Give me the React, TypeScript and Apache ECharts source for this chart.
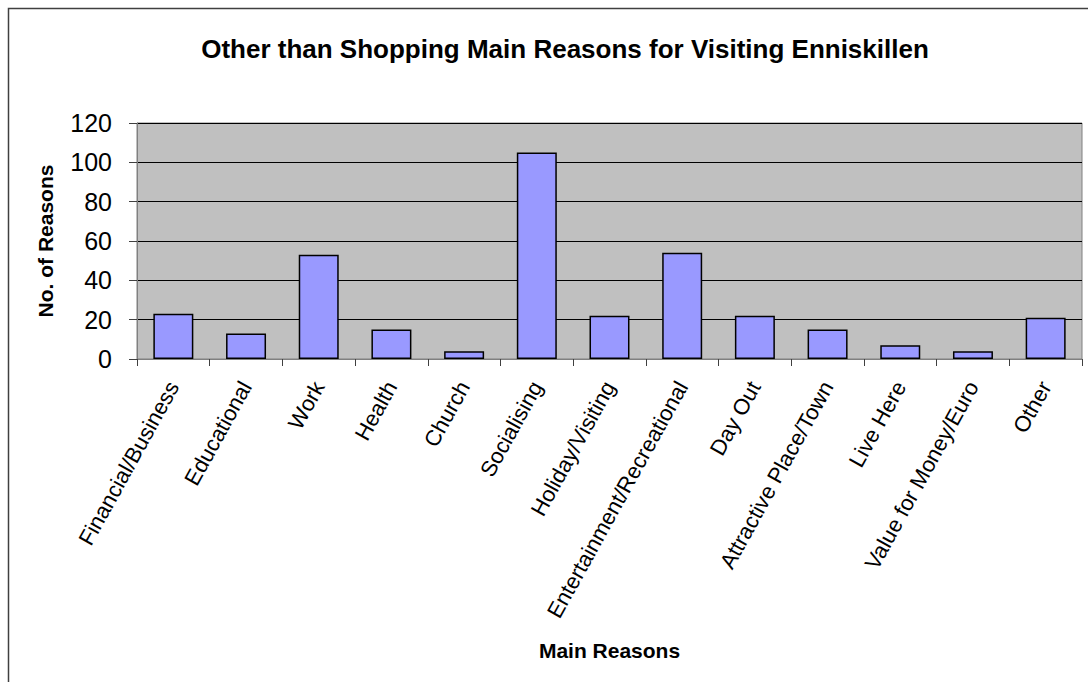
import React, { useEffect, useRef } from "react";
import * as echarts from "echarts";

const categories = [
  "Financial/Business",
  "Educational",
  "Work",
  "Health",
  "Church",
  "Socialising",
  "Holiday/Visiting",
  "Entertainment/Recreational",
  "Day Out",
  "Attractive Place/Town",
  "Live Here",
  "Value for Money/Euro",
  "Other",
];
const reasonCounts = [23, 13, 53, 15, 4, 105, 22, 54, 22, 15, 7, 4, 21];
const titleText = "Other than Shopping Main Reasons for Visiting Enniskillen";
const xAxisName = "Main Reasons";
const yAxisName = "No. of Reasons";
const yMin = 0;
const yMax = 120;
const yStep = 20;

const FONT = "'Liberation Sans', Arial, sans-serif";

export default function App() {
  const ref = useRef<HTMLDivElement>(null);
  useEffect(() => {
    if (!ref.current) return;
    const chart = echarts.init(ref.current, undefined, { renderer: "svg" });
    chart.setOption({
      animation: false,
      backgroundColor: "#ffffff",
      textStyle: { fontFamily: FONT },
      title: {
        text: titleText,
        left: 560,
        textAlign: "center",
        top: 31,
        textStyle: { fontFamily: FONT, fontSize: 26, fontWeight: "bold", color: "#000" },
      },
      graphic: [
        {
          type: "polyline",
          shape: { points: [[8.5, 682], [8.5, 8.5], [1088, 8.5]] },
          style: { stroke: "#404040", lineWidth: 1.5, fill: "none" },
        },
      ],
      grid: {
        left: 137,
        top: 123,
        right: 6,
        bottom: 323,
        show: true,
        backgroundColor: "#C0C0C0",
        borderColor: "#808080",
        borderWidth: 1,
      },
      xAxis: {
        type: "category",
        data: categories,
        name: xAxisName,
        nameLocation: "middle",
        nameGap: 281,
        nameTextStyle: { fontFamily: FONT, fontSize: 21, fontWeight: "bold", color: "#000" },
        axisLine: { show: true, lineStyle: { color: "#808080", width: 1 } },
        axisTick: { show: true, length: 7, lineStyle: { color: "#404040" } },
        axisLabel: {
          rotate: 61,
          margin: 24,
          fontFamily: FONT,
          fontSize: 22,
          color: "#000",
          interval: 0,
        },
      },
      yAxis: {
        type: "value",
        min: yMin,
        max: yMax,
        interval: yStep,
        name: yAxisName,
        nameLocation: "middle",
        nameGap: 81,
        nameTextStyle: { fontFamily: FONT, fontSize: 21, fontWeight: "bold", color: "#000" },
        axisLine: { show: true, lineStyle: { color: "#808080", width: 1 } },
        axisTick: { show: true, length: 8, lineStyle: { color: "#404040" } },
        axisLabel: { margin: 25, fontFamily: FONT, fontSize: 25, color: "#000" },
        splitLine: { show: true, lineStyle: { color: "#000", width: 1 } },
      },
      series: [
        {
          type: "bar",
          data: reasonCounts,
          barWidth: "55%",
          itemStyle: { color: "#9999FF", borderColor: "#000", borderWidth: 1.5 },
        },
      ],
    });
    return () => chart.dispose();
  }, []);
  return (
    <div
      ref={ref}
      style={{ position: "fixed", left: 0, top: 0, width: 1088, height: 682 }}
    />
  );
}
